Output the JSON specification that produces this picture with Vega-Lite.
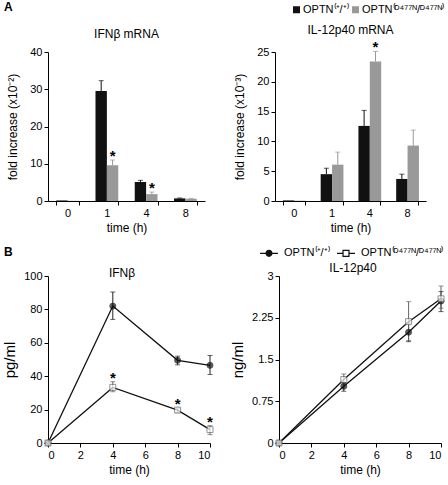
{
  "$schema": "https://vega.github.io/schema/vega-lite/v6.json",
  "padding": {"left": 2, "top": 1, "right": 2, "bottom": 2},
  "background": "white",
  "config": {
    "font": "Liberation Sans",
    "view": {"stroke": null},
    "axis": {"domainColor": "black", "tickColor": "black", "labelColor": "black", "titleColor": "black", "labelFontSize": 11, "titleFontSize": 12, "titleFontWeight": "normal", "tickSize": 4, "grid": false, "labelPadding": 2, "labelOverlap": false},
    "title": {"fontSize": 12, "fontWeight": "normal", "color": "black"},
    "legend": {"labelFontSize": 11, "labelColor": "black", "padding": 0}
  },
  "datasets": {
    "a1": [
      {"t": "0", "g": "WT", "v": 0.15},
      {"t": "0", "g": "MUT", "v": 0.05},
      {"t": "1", "g": "WT", "v": 29.5, "hi": 32.3},
      {"t": "1", "g": "MUT", "v": 9.6, "hi": 11.0, "sig": true},
      {"t": "4", "g": "WT", "v": 5.1, "hi": 5.55},
      {"t": "4", "g": "MUT", "v": 1.85, "hi": 2.4, "sig": true},
      {"t": "8", "g": "WT", "v": 0.7, "hi": 0.8},
      {"t": "8", "g": "MUT", "v": 0.6, "hi": 0.7}
    ],
    "a2": [
      {"t": "0", "g": "WT", "v": 0.1},
      {"t": "0", "g": "MUT", "v": 0.05},
      {"t": "1", "g": "WT", "v": 4.5, "hi": 5.5},
      {"t": "1", "g": "MUT", "v": 6.1, "hi": 8.2},
      {"t": "4", "g": "WT", "v": 12.6, "hi": 15.2},
      {"t": "4", "g": "MUT", "v": 23.4, "hi": 25.1, "sig": true},
      {"t": "8", "g": "WT", "v": 3.7, "hi": 4.5},
      {"t": "8", "g": "MUT", "v": 9.3, "hi": 11.9}
    ],
    "b1": [
      {"t": 0, "g": "WT", "v": 0, "lo": 0, "hi": 0},
      {"t": 4, "g": "WT", "v": 82, "lo": 74, "hi": 90.4},
      {"t": 8, "g": "WT", "v": 49.5, "lo": 46.8, "hi": 52},
      {"t": 10, "g": "WT", "v": 46.5, "lo": 41, "hi": 52.4},
      {"t": 0, "g": "MUT", "v": 0, "lo": 0, "hi": 0},
      {"t": 4, "g": "MUT", "v": 33.3, "lo": 30.7, "hi": 36.7, "sig": true},
      {"t": 8, "g": "MUT", "v": 19.7, "lo": 18.3, "hi": 20.8, "sig": true},
      {"t": 10, "g": "MUT", "v": 8, "lo": 5, "hi": 10.4, "sig": true}
    ],
    "b2": [
      {"t": 0, "g": "WT", "v": 0, "lo": 0, "hi": 0},
      {"t": 4, "g": "WT", "v": 1.02, "lo": 0.93, "hi": 1.09},
      {"t": 8, "g": "WT", "v": 1.99, "lo": 1.82, "hi": 2.16},
      {"t": 10, "g": "WT", "v": 2.55, "lo": 2.36, "hi": 2.72},
      {"t": 0, "g": "MUT", "v": 0, "lo": 0, "hi": 0},
      {"t": 4, "g": "MUT", "v": 1.14, "lo": 1.06, "hi": 1.24},
      {"t": 8, "g": "MUT", "v": 2.18, "lo": 1.84, "hi": 2.54},
      {"t": 10, "g": "MUT", "v": 2.59, "lo": 2.42, "hi": 2.82}
    ]
  },
  "spacing": 10,
  "vconcat": [
    {
      "title": {"text": "A", "anchor": "start", "frame": "group", "fontWeight": "bold", "fontSize": 12, "dx": -44, "offset": -10},
      "spacing": 28,
      "resolve": {"scale": {"color": "independent", "y": "independent"}, "legend": {"color": "independent"}},
      "hconcat": [
        {
          "width": 157, "height": 149,
          "title": {"text": "IFNβ mRNA", "offset": 5},
          "data": {"name": "a1"},
          "encoding": {
            "x": {"field": "t", "type": "nominal", "sort": ["0", "1", "4", "8"], "scale": {"paddingInner": 0.42, "paddingOuter": 0.21}, "axis": {"title": "time (h)", "labelAngle": 0, "tickBand": "extent", "titlePadding": 4}},
            "xOffset": {"field": "g", "type": "nominal", "sort": ["WT", "MUT"], "scale": {"paddingInner": 0}}
          },
          "layer": [
            {"mark": {"type": "bar"}, "encoding": {"y": {"field": "v", "type": "quantitative", "scale": {"domain": [0, 40], "nice": false}, "axis": {"values": [0, 10, 20, 30, 40], "tickCount": 20, "labelOverlap": false, "labelExpr": "'' + datum.value", "title": "fold increase (x10⁻²)", "titlePadding": 10}}, "color": {"field": "g", "type": "nominal", "sort": ["WT", "MUT"], "scale": {"domain": ["WT", "MUT"], "range": ["#111111", "#999999"]}, "legend": null}}},
            {"transform": [{"filter": "isValid(datum.hi)"}], "mark": {"type": "rule", "strokeWidth": 1}, "encoding": {"y": {"field": "v", "type": "quantitative"}, "y2": {"field": "hi"}, "stroke": {"condition": {"test": "datum.g == 'MUT'", "value": "#999999"}, "value": "#111111"}}},
            {"transform": [{"filter": "isValid(datum.hi)"}], "mark": {"type": "tick", "orient": "horizontal", "size": 5, "thickness": 1}, "encoding": {"y": {"field": "hi", "type": "quantitative"}, "color": {"condition": {"test": "datum.g == 'MUT'", "value": "#999999"}, "value": "#111111"}}},
            {"transform": [{"filter": "datum.sig === true"}], "mark": {"type": "text", "text": "*", "fontSize": 15, "fontWeight": "bold", "baseline": "alphabetic", "dy": 1, "color": "black"}, "encoding": {"y": {"field": "hi", "type": "quantitative"}}}
          ]
        },
        {
          "width": 151, "height": 149,
          "title": {"text": "IL-12p40 mRNA", "offset": 0, "dy": 33},
          "data": {"name": "a2"},
          "encoding": {
            "x": {"field": "t", "type": "nominal", "sort": ["0", "1", "4", "8"], "scale": {"paddingInner": 0.42, "paddingOuter": 0.21}, "axis": {"title": "time (h)", "labelAngle": 0, "tickBand": "extent", "titlePadding": 4}},
            "xOffset": {"field": "g", "type": "nominal", "sort": ["WT", "MUT"], "scale": {"paddingInner": 0}}
          },
          "layer": [
            {"mark": {"type": "bar"}, "encoding": {"y": {"field": "v", "type": "quantitative", "scale": {"domain": [0, 25], "nice": false}, "axis": {"values": [0, 5, 10, 15, 20, 25], "tickCount": 20, "labelOverlap": false, "labelExpr": "'' + datum.value", "title": "fold increase (x10⁻³)", "titlePadding": 10}}, "color": {"field": "g", "type": "nominal", "sort": ["WT", "MUT"], "scale": {"domain": ["WT", "MUT"], "range": ["#111111", "#999999"]}, "legend": {"title": null, "orient": "none", "direction": "horizontal", "legendX": 16, "legendY": -48, "symbolType": "square", "symbolSize": 49, "symbolStrokeWidth": 0, "columnPadding": 1, "labelOffset": 1, "labelExpr": "datum.value == 'WT' ? 'OPTN⁽⁺/⁺⁾' : 'OPTN⁽ᴰ⁴⁷⁷ᴺ/ᴰ⁴⁷⁷ᴺ⁾'"}}}},
            {"transform": [{"filter": "isValid(datum.hi)"}], "mark": {"type": "rule", "strokeWidth": 1}, "encoding": {"y": {"field": "v", "type": "quantitative"}, "y2": {"field": "hi"}, "stroke": {"condition": {"test": "datum.g == 'MUT'", "value": "#999999"}, "value": "#111111"}}},
            {"transform": [{"filter": "isValid(datum.hi)"}], "mark": {"type": "tick", "orient": "horizontal", "size": 5, "thickness": 1}, "encoding": {"y": {"field": "hi", "type": "quantitative"}, "color": {"condition": {"test": "datum.g == 'MUT'", "value": "#999999"}, "value": "#111111"}}},
            {"transform": [{"filter": "datum.sig === true"}], "mark": {"type": "text", "text": "*", "fontSize": 15, "fontWeight": "bold", "baseline": "alphabetic", "dy": 1, "color": "black"}, "encoding": {"y": {"field": "hi", "type": "quantitative"}}}
          ]
        }
      ]
    },
    {
      "title": {"text": "B", "anchor": "start", "frame": "group", "fontWeight": "bold", "fontSize": 12, "dx": -44, "offset": -16},
      "spacing": 15,
      "resolve": {"scale": {"color": "independent", "y": "independent", "x": "independent"}, "legend": {"color": "independent"}},
      "hconcat": [
        {
          "width": 162, "height": 167,
          "title": {"text": "IFNβ", "offset": -10, "dx": -7},
          "data": {"name": "b1"},
          "encoding": {
            "x": {"field": "t", "type": "quantitative", "scale": {"domain": [0, 10], "nice": false}, "axis": {"values": [0, 2, 4, 6, 8, 10], "tickCount": 20, "labelOverlap": false, "labelExpr": "'' + datum.value", "title": "time (h)", "titlePadding": 4}}
          },
          "layer": [
            {"mark": {"type": "rule", "strokeWidth": 1}, "encoding": {"y": {"field": "lo", "type": "quantitative", "scale": {"domain": [0, 100], "nice": false}, "axis": {"values": [0, 20, 40, 60, 80, 100], "tickCount": 20, "labelOverlap": false, "labelExpr": "'' + datum.value", "title": "pg/ml", "titleFontSize": 15, "titlePadding": 6}}, "y2": {"field": "hi"}, "stroke": {"condition": {"test": "datum.g == 'MUT'", "value": "#666666"}, "value": "#222222"}}},
            {"mark": {"type": "tick", "orient": "horizontal", "size": 5, "thickness": 1}, "encoding": {"y": {"field": "lo", "type": "quantitative"}, "color": {"condition": {"test": "datum.g == 'MUT'", "value": "#666666"}, "value": "#222222"}}},
            {"mark": {"type": "tick", "orient": "horizontal", "size": 5, "thickness": 1}, "encoding": {"y": {"field": "hi", "type": "quantitative"}, "color": {"condition": {"test": "datum.g == 'MUT'", "value": "#666666"}, "value": "#222222"}}},
            {"mark": {"type": "line", "strokeWidth": 1.3, "color": "#111111"}, "encoding": {"y": {"field": "v", "type": "quantitative"}, "detail": {"field": "g", "type": "nominal"}}},
            {"mark": {"type": "point", "filled": true, "strokeWidth": 1, "size": 36}, "encoding": {"y": {"field": "v", "type": "quantitative"}, "shape": {"condition": {"test": "datum.g == 'MUT'", "value": "square"}, "value": "circle"}, "fill": {"condition": {"test": "datum.g == 'MUT'", "value": "#ffffff"}, "value": "#111111"}, "stroke": {"condition": {"test": "datum.g == 'MUT'", "value": "#666666"}, "value": "#111111"}}},
            {"transform": [{"filter": "datum.sig === true"}], "mark": {"type": "text", "text": "*", "fontSize": 15, "fontWeight": "bold", "baseline": "alphabetic", "dy": 1, "color": "black"}, "encoding": {"y": {"field": "hi", "type": "quantitative"}}}
          ]
        },
        {
          "width": 162, "height": 167,
          "title": {"text": "IL-12p40", "offset": 0, "dx": -7, "dy": 32},
          "data": {"name": "b2"},
          "encoding": {
            "x": {"field": "t", "type": "quantitative", "scale": {"domain": [0, 10], "nice": false}, "axis": {"values": [0, 2, 4, 6, 8, 10], "tickCount": 20, "labelOverlap": false, "labelExpr": "'' + datum.value", "title": "time (h)", "titlePadding": 4}}
          },
          "layer": [
            {"mark": {"type": "rule", "strokeWidth": 1}, "encoding": {"y": {"field": "lo", "type": "quantitative", "scale": {"domain": [0, 3], "nice": false}, "axis": {"values": [0, 0.75, 1.5, 2.25, 3], "tickCount": 20, "labelOverlap": false, "labelExpr": "'' + datum.value", "title": "ng/ml", "titleFontSize": 15, "titlePadding": 6}}, "y2": {"field": "hi"}, "stroke": {"condition": {"test": "datum.g == 'MUT'", "value": "#666666"}, "value": "#222222"}}},
            {"mark": {"type": "tick", "orient": "horizontal", "size": 5, "thickness": 1}, "encoding": {"y": {"field": "lo", "type": "quantitative"}, "color": {"condition": {"test": "datum.g == 'MUT'", "value": "#666666"}, "value": "#222222"}}},
            {"mark": {"type": "tick", "orient": "horizontal", "size": 5, "thickness": 1}, "encoding": {"y": {"field": "hi", "type": "quantitative"}, "color": {"condition": {"test": "datum.g == 'MUT'", "value": "#666666"}, "value": "#222222"}}},
            {"mark": {"type": "line", "strokeWidth": 1.3}, "encoding": {"y": {"field": "v", "type": "quantitative"}, "color": {"field": "g", "type": "nominal", "scale": {"domain": ["WT", "MUT"], "range": ["#111111", "#111111"]}, "legend": {"title": null, "orient": "none", "direction": "horizontal", "legendX": -20, "legendY": -33, "symbolSize": 324, "columnPadding": 4, "labelOffset": 5, "labelExpr": "datum.value == 'WT' ? 'OPTN⁽⁺/⁺⁾' : 'OPTN⁽ᴰ⁴⁷⁷ᴺ/ᴰ⁴⁷⁷ᴺ⁾'", "encode": {"symbols": {"update": {"shape": {"signal": "datum.value == 'WT' ? 'M-1,0H1M-0.33,0A0.33,0.33 0 1,1 0.33,0A0.33,0.33 0 1,1 -0.33,0Z' : 'M-1,0H-0.33M0.33,0H1M-0.33,-0.33H0.33V0.33H-0.33Z'"}, "fill": {"signal": "datum.value == 'WT' ? '#111111' : '#ffffff'"}, "stroke": {"value": "#111111"}, "strokeWidth": {"value": 1.2}, "opacity": {"value": 1}}}}}}}},
            {"mark": {"type": "point", "filled": true, "strokeWidth": 1, "size": 36}, "encoding": {"y": {"field": "v", "type": "quantitative"}, "shape": {"condition": {"test": "datum.g == 'MUT'", "value": "square"}, "value": "circle"}, "fill": {"condition": {"test": "datum.g == 'MUT'", "value": "#ffffff"}, "value": "#111111"}, "stroke": {"condition": {"test": "datum.g == 'MUT'", "value": "#666666"}, "value": "#111111"}}}
          ]
        }
      ]
    }
  ]
}
